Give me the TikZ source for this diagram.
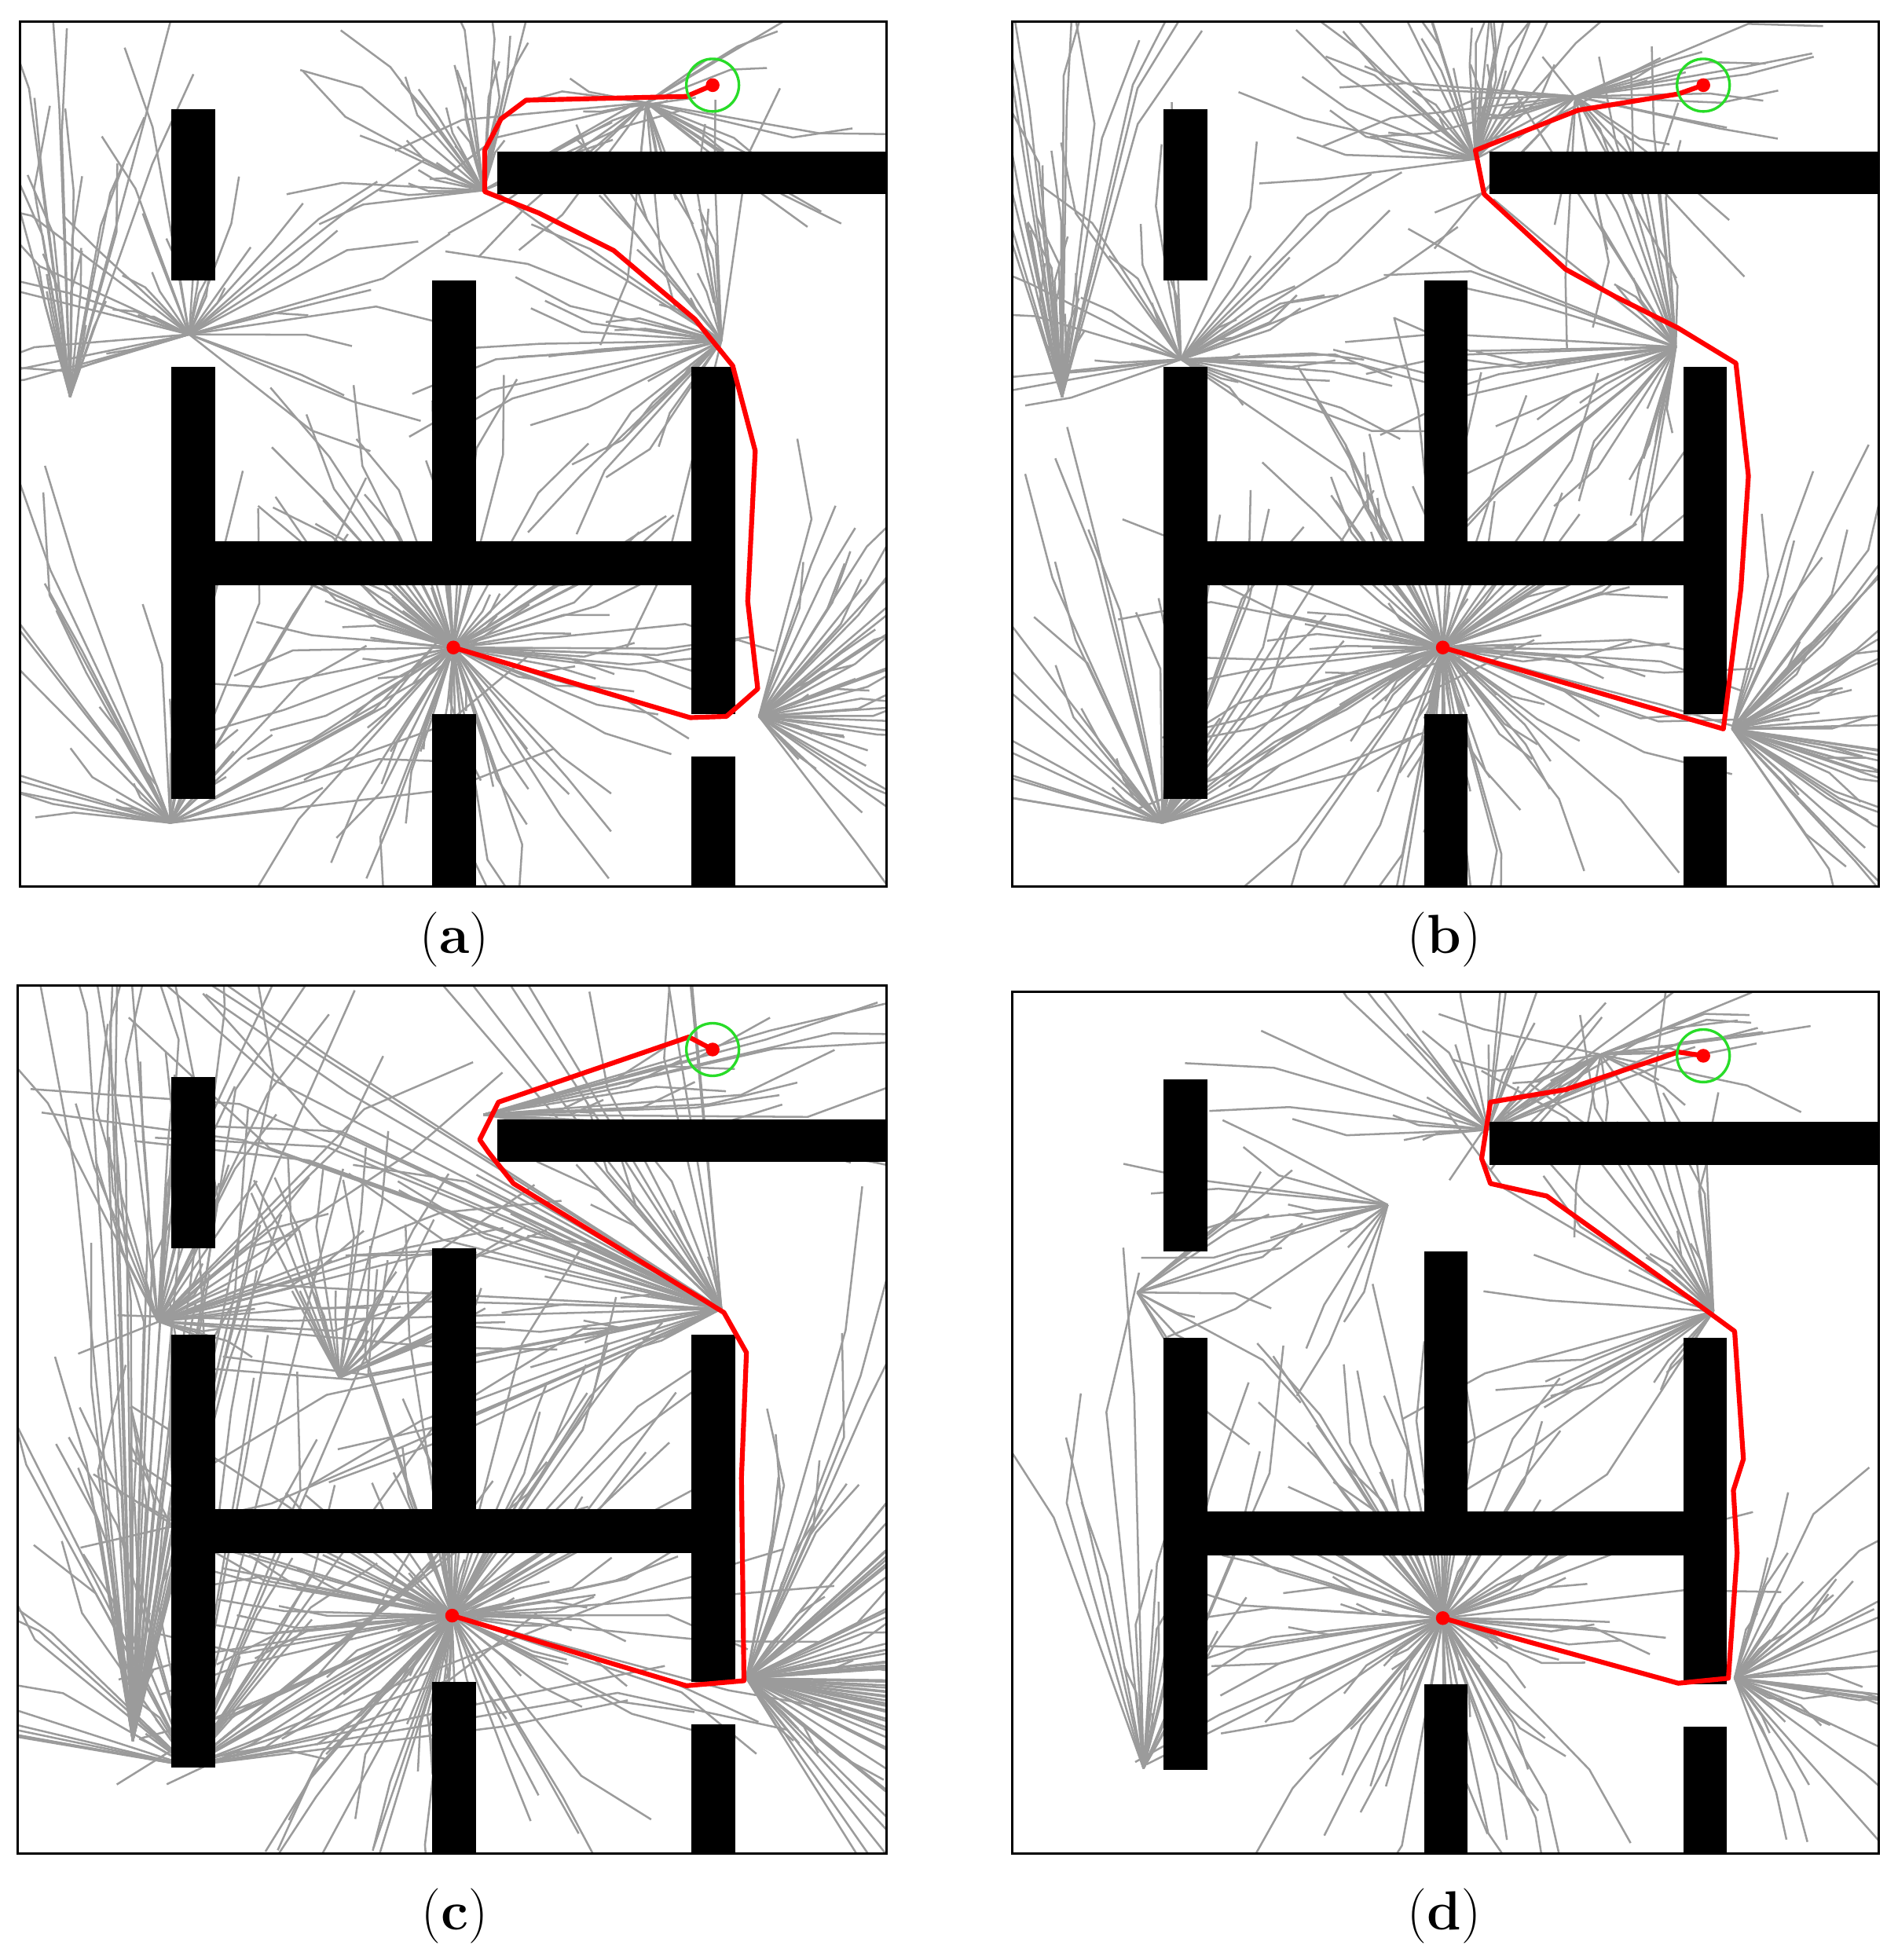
\documentclass[tikz,border=0pt]{standalone}
\usepackage{tikz}
\definecolor{treegray}{RGB}{155,155,155}
\definecolor{goalgreen}{RGB}{40,220,40}
\tikzset{
  tree/.style={draw=treegray,line width=0.9pt},
  wall/.style={fill=black},
  route/.style={draw=red,line width=2.2pt,line join=round},
  dot/.style={circle,fill=red,inner sep=0pt,minimum size=0.22cm},
  ring/.style={circle,draw=goalgreen,line width=1.2pt,minimum size=0.84cm},
  frame/.style={draw=black,line width=1pt},
  caption/.style={font=\fontsize{25}{30}\selectfont}
}
% walls of the maze, local coordinates (y down)
\newcommand\mazewalls{%
  \fill[wall] (121,70) rectangle (156,207);
  \fill[wall] (121,276) rectangle (156,621);
  \fill[wall] (121,415) rectangle (571,450);
  \fill[wall] (329,207) rectangle (364,415);
  \fill[wall] (329,553) rectangle (364,691);
  \fill[wall] (536,276) rectangle (571,553);
  \fill[wall] (536,587) rectangle (571,691);
  \fill[wall] (381,104) rectangle (692,138);
}
% fan of branches: x, y, angle from, angle to, count, max length
\newcommand\fan[6]{%
  \foreach \i in {1,...,#5}{
    \pgfmathsetmacro\ang{#3+rnd*(#4-#3)}
    \pgfmathsetmacro\len{30+rnd*(#6-30)}
    \pgfmathsetmacro\twig{\ang+(rnd-0.5)*50}
    \draw[tree] (#1,#2) -- ++(\ang:\len) -- ++(\twig:0.4*\len);
  }
}
\begin{document}
\begin{tikzpicture}[x=0.02cm,y=-0.02cm]
\useasboundingbox (0,0) rectangle (1515,1565);

% ---- (a)
\begin{scope}[shift={(16,17)}]
  \pgfmathsetseed{11}
  \begin{scope}
    \clip (0,0) rectangle (692,691);
    \fan{346}{500}{0}{360}{110}{190}
    \fan{120}{640}{-175}{-5}{45}{240}
    \fan{135}{250}{-200}{40}{40}{170}
    \fan{560}{255}{90}{280}{40}{190}
    \fan{370}{135}{-190}{-20}{35}{140}
    \fan{590}{555}{-80}{70}{45}{170}
    \fan{500}{65}{-40}{200}{30}{150}
    \fan{40}{300}{-110}{-70}{25}{280}
    \mazewalls
  \end{scope}
  \draw[frame] (0,0) rectangle (692,691);
  \draw[route] (346,500) -- (535,556) -- (564,555) -- (589,533) -- (581,463)
    -- (587,343) -- (569,275) -- (539,238) -- (474,183) -- (414,153)
    -- (371,136) -- (371,103) -- (384,78) -- (404,63) -- (532,60) -- (553,51);
  \node[dot] (sa) at (346,500) {};
  \node[dot] (ga) at (553,51) {};
  \node[ring] (ra) at (553,51) {};
  \node[caption] (la) at (347,733) {(\textbf{a})};
\end{scope}

% ---- (b)
\begin{scope}[shift={(808,17)}]
  \pgfmathsetseed{23}
  \begin{scope}
    \clip (0,0) rectangle (692,691);
    \fan{344}{500}{0}{360}{120}{200}
    \fan{120}{640}{-175}{-5}{45}{240}
    \fan{135}{270}{-200}{40}{45}{180}
    \fan{530}{260}{90}{280}{45}{200}
    \fan{370}{110}{-190}{-20}{40}{150}
    \fan{575}{565}{-80}{70}{50}{180}
    \fan{450}{60}{-40}{200}{35}{150}
    \fan{40}{300}{-110}{-70}{30}{280}
    \mazewalls
  \end{scope}
  \draw[frame] (0,0) rectangle (692,691);
  \draw[route] (344,500) -- (568,565) -- (582,453) -- (588,363) -- (578,273)
    -- (532,245) -- (482,220) -- (442,198) -- (377,138) -- (370,103)
    -- (452,71) -- (532,58) -- (552,51);
  \node[dot] (sb) at (344,500) {};
  \node[dot] (gb) at (552,51) {};
  \node[ring] (rb) at (552,51) {};
  \node[caption] (lb) at (345,733) {(\textbf{b})};
\end{scope}

% ---- (c)
\begin{scope}[shift={(16,790)}]
  \pgfmathsetseed{37}
  \begin{scope}
    \clip (-2,-3) rectangle (692,690);
    \fan{345}{500}{0}{360}{130}{230}
    \fan{135}{620}{-175}{-5}{60}{380}
    \fan{110}{265}{-120}{20}{45}{250}
    \fan{560}{255}{150}{270}{60}{420}
    \fan{370}{100}{-20}{10}{25}{320}
    \fan{580}{550}{-85}{60}{80}{330}
    \fan{90}{600}{-100}{-75}{50}{600}
    \fan{255}{310}{-120}{-20}{25}{150}
    \mazewalls
  \end{scope}
  \draw[frame] (-2,-3) rectangle (692,690);
  \draw[route] (345,500) -- (532,556) -- (578,552) -- (576,390) -- (580,290)
    -- (562,258) -- (394,155) -- (374,130) -- (367,120) -- (382,90)
    -- (534,38) -- (553,48);
  \node[dot] (sc) at (345,500) {};
  \node[dot] (gc) at (553,48) {};
  \node[ring] (rc) at (553,48) {};
  \node[caption] (lc) at (347,740) {(\textbf{c})};
\end{scope}

% ---- (d)
\begin{scope}[shift={(808,792)}]
  \pgfmathsetseed{41}
  \begin{scope}
    \clip (0,0) rectangle (692,688);
    \fan{344}{500}{0}{360}{110}{200}
    \fan{105}{620}{-110}{-60}{20}{300}
    \fan{577}{548}{-80}{70}{40}{180}
    \fan{560}{255}{120}{270}{35}{200}
    \fan{380}{110}{-190}{-20}{30}{180}
    \fan{470}{50}{-40}{200}{25}{130}
    \fan{100}{240}{-60}{60}{12}{120}
    \fan{300}{170}{100}{220}{15}{160}
    \mazewalls
  \end{scope}
  \draw[frame] (0,0) rectangle (692,688);
  \draw[route] (344,500) -- (532,552) -- (572,548) -- (579,448) -- (576,398)
    -- (584,373) -- (577,271) -- (532,238) -- (427,163) -- (382,153)
    -- (375,133) -- (382,88) -- (442,78) -- (532,48) -- (552,51);
  \node[dot] (sd) at (344,500) {};
  \node[dot] (gd) at (552,51) {};
  \node[ring] (rd) at (552,51) {};
  \node[caption] (ld) at (345,738) {(\textbf{d})};
\end{scope}
\end{tikzpicture}
\end{document}
